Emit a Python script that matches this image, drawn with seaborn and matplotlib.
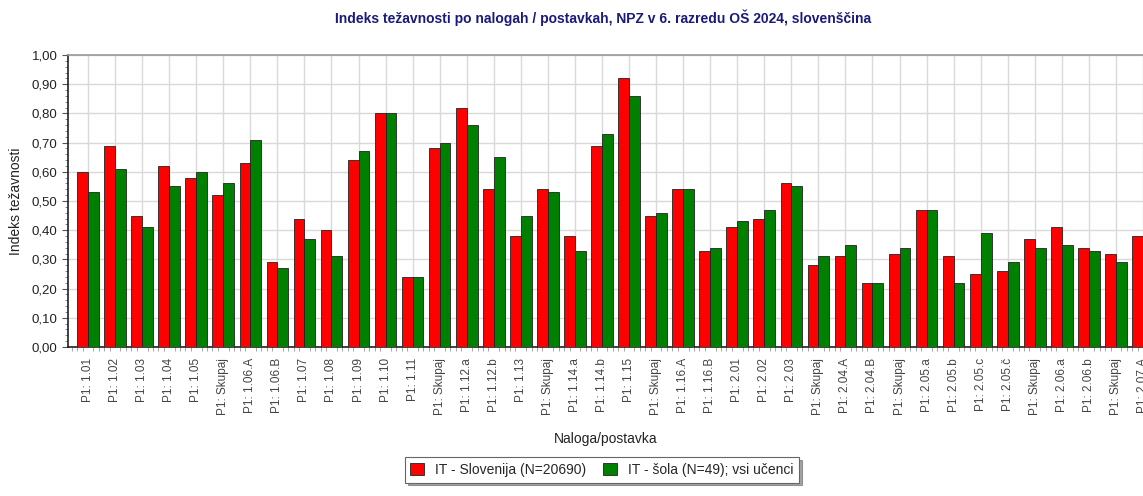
import matplotlib.pyplot as plt
import matplotlib.ticker as mticker
import seaborn as sns
import pandas as pd
import numpy as np

# item labels along the x axis
items = ['1.01', '1.02', '1.03', '1.04', '1.05', 'Skupaj', '1.06.A', '1.06.B',
         '1.07', '1.08', '1.09', '1.10', '1.11', 'Skupaj', '1.12.a', '1.12.b',
         '1.13', 'Skupaj', '1.14.a', '1.14.b', '1.15', 'Skupaj', '1.16.A', '1.16.B',
         '2.01', '2.02', '2.03', 'Skupaj', '2.04.A', '2.04.B', 'Skupaj', '2.05.a',
         '2.05.b', '2.05.c', '2.05.č', 'Skupaj', '2.06.a', '2.06.b', 'Skupaj', '2.07.A']
labels = ['P1: ' + s for s in items]

slovenija = [0.60, 0.69, 0.45, 0.62, 0.58, 0.52, 0.63, 0.29, 0.44, 0.40,
             0.64, 0.80, 0.24, 0.68, 0.82, 0.54, 0.38, 0.54, 0.38, 0.69,
             0.92, 0.45, 0.54, 0.33, 0.41, 0.44, 0.56, 0.28, 0.31, 0.22,
             0.32, 0.47, 0.31, 0.25, 0.26, 0.37, 0.41, 0.34, 0.32, 0.38]
sola = [0.53, 0.61, 0.41, 0.55, 0.60, 0.56, 0.71, 0.27, 0.37, 0.31,
        0.67, 0.80, 0.24, 0.70, 0.76, 0.65, 0.45, 0.53, 0.33, 0.73,
        0.86, 0.46, 0.54, 0.34, 0.43, 0.47, 0.55, 0.31, 0.35, 0.22,
        0.34, 0.47, 0.22, 0.39, 0.29, 0.34, 0.35, 0.33, 0.29, 0.35]

series_names = ['IT - Slovenija (N=20690)', 'IT - šola (N=49); vsi učenci']
colors = ['#ff0000', '#008000']

n = len(items)
df = pd.DataFrame({
    'pos': list(range(n)) * 2,
    'value': slovenija + sola,
    'series': [series_names[0]] * n + [series_names[1]] * n,
})

sns.set_style('white')
plt.rcParams['font.family'] = ['Liberation Sans', 'DejaVu Sans']

fig = plt.figure(figsize=(11.43, 4.96), dpi=100)
ax = fig.add_axes([68 / 1143, 1 - 347 / 496, 1 - 68 / 1143, (347 - 55) / 496])

sns.barplot(data=df, x='pos', y='value', hue='series', order=list(range(n)),
            hue_order=series_names, palette=colors, saturation=1, width=0.8,
            edgecolor='#222222', linewidth=0.6, ax=ax, legend=False, zorder=3)

ax.set_ylim(0, 1.0)
ax.set_xlim(-0.74, 38.86)
ax.yaxis.set_major_locator(mticker.MultipleLocator(0.1))
ax.yaxis.set_minor_locator(mticker.MultipleLocator(0.02))
ax.yaxis.set_major_formatter(mticker.FuncFormatter(lambda v, p: f'{v:.2f}'.replace('.', ',')))
ax.set_xticks(range(n))
ax.set_xticklabels(labels, rotation=90, fontsize=8.5, color='#444444')
ax.xaxis.set_minor_locator(mticker.MultipleLocator(0.2))
ax.tick_params(axis='x', which='major', length=0, pad=8)
ax.tick_params(axis='x', which='minor', length=3, color='#999999', direction='out', bottom=True)
ax.tick_params(axis='y', which='major', length=4, color='#555555', labelsize=9.5, labelcolor='#222222', left=True)
ax.tick_params(axis='y', which='minor', length=2, color='#777777', left=True)

ax.grid(True, which='major', color='#d9d9d9', linewidth=1.0, zorder=0)
ax.set_axisbelow(True)

for side in ['left', 'bottom']:
    ax.spines[side].set_color('#222222')
    ax.spines[side].set_linewidth(1.2)
ax.spines['top'].set_color('#999999')
ax.spines['top'].set_linewidth(1.2)
ax.spines['right'].set_visible(False)

ax.set_xlabel('Naloga/postavka', fontsize=10, color='#222222', labelpad=12)
ax.set_ylabel('Indeks težavnosti', fontsize=10, color='#222222', labelpad=6)

fig.suptitle('Indeks težavnosti po nalogah / postavkah, NPZ v 6. razredu OŠ 2024, slovenščina',
             x=603 / 1143, y=1 - 18 / 496, va='center', fontsize=10, fontweight='bold', color='#1a1a7a')

handles = [plt.Rectangle((0, 0), 1, 1, facecolor=c, edgecolor='#222222', linewidth=0.6) for c in colors]
leg = fig.legend(handles, series_names, loc='center', bbox_to_anchor=(602 / 1143, 1 - 470 / 496),
                 ncol=2, fontsize=10, frameon=True, fancybox=False, shadow=True,
                 handlelength=1.0, handleheight=1.0, columnspacing=1.2, borderpad=0.4)
leg.get_frame().set_edgecolor('#666666')
leg.get_frame().set_linewidth(0.8)

fig.savefig('out.png', dpi=100)
